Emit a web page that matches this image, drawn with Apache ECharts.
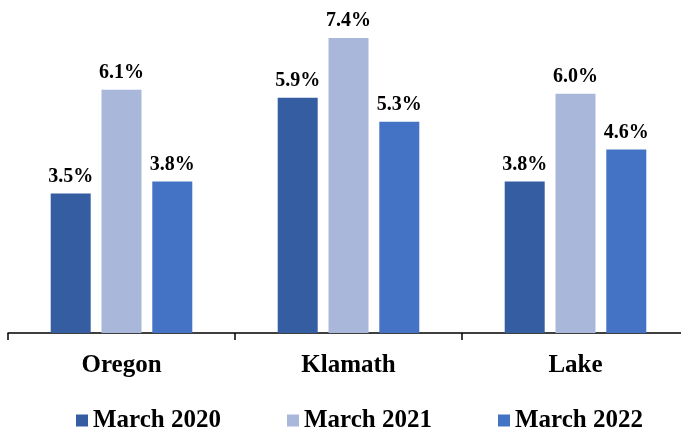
<!DOCTYPE html>
<html>
<head>
<meta charset="utf-8">
<script src="https://cdn.jsdelivr.net/npm/echarts@6/dist/echarts.min.js"></script>
<style>
  html, body { margin: 0; padding: 0; background: #fff; }
  #container { width: 681px; height: 433px; }
</style>
</head>
<body>
<div id="container"></div>
<script>
const categories = ["Oregon", "Klamath", "Lake"];
const seriesNames = ["March 2020", "March 2021", "March 2022"];
const march2020 = [3.5, 5.9, 3.8];
const march2021 = [6.1, 7.4, 6.0];
const march2022 = [3.8, 5.3, 4.6];
const colors = ["#345DA2", "#A9B7DB", "#4472C4"];

const font = "'Liberation Serif', 'Times New Roman', serif";
const values = [march2020, march2021, march2022];

const series = seriesNames.map((name, i) => ({
  name: name,
  type: "bar",
  data: values[i],
  barWidth: 40,
  barGap: "27%",
  itemStyle: { color: colors[i] },
  label: {
    show: true,
    position: "top",
    distance: 7,
    formatter: (p) => p.value.toFixed(1) + "%",
    fontFamily: font,
    fontWeight: "bold",
    fontSize: 20,
    color: "#000",
  },
}));

const chart = echarts.init(document.getElementById("container"));
chart.setOption({
  animation: false,
  grid: {
    left: 8,
    top: 14,
    width: 681,
    height: 319,
    containLabel: false,
    outerBoundsMode: "none",
  },
  xAxis: {
    type: "category",
    data: categories,
    axisLine: { lineStyle: { color: "#000", width: 1.5 } },
    axisTick: { show: true, length: 7, lineStyle: { color: "#000", width: 1.5 } },
    axisLabel: {
      margin: 20,
      fontFamily: font,
      fontWeight: "bold",
      fontSize: 25,
      color: "#000",
    },
  },
  yAxis: {
    type: "value",
    min: 0,
    max: 8,
    show: false,
    splitLine: { show: false },
  },
  legend: {
    top: 403,
    left: 71,
    itemWidth: 12,
    itemHeight: 12,
    itemGap: 66,
    icon: "rect",
    textStyle: {
      fontFamily: font,
      fontWeight: "bold",
      fontSize: 25,
      color: "#000",
    },
    data: seriesNames,
  },
  series: series,
});
</script>
</body>
</html>
